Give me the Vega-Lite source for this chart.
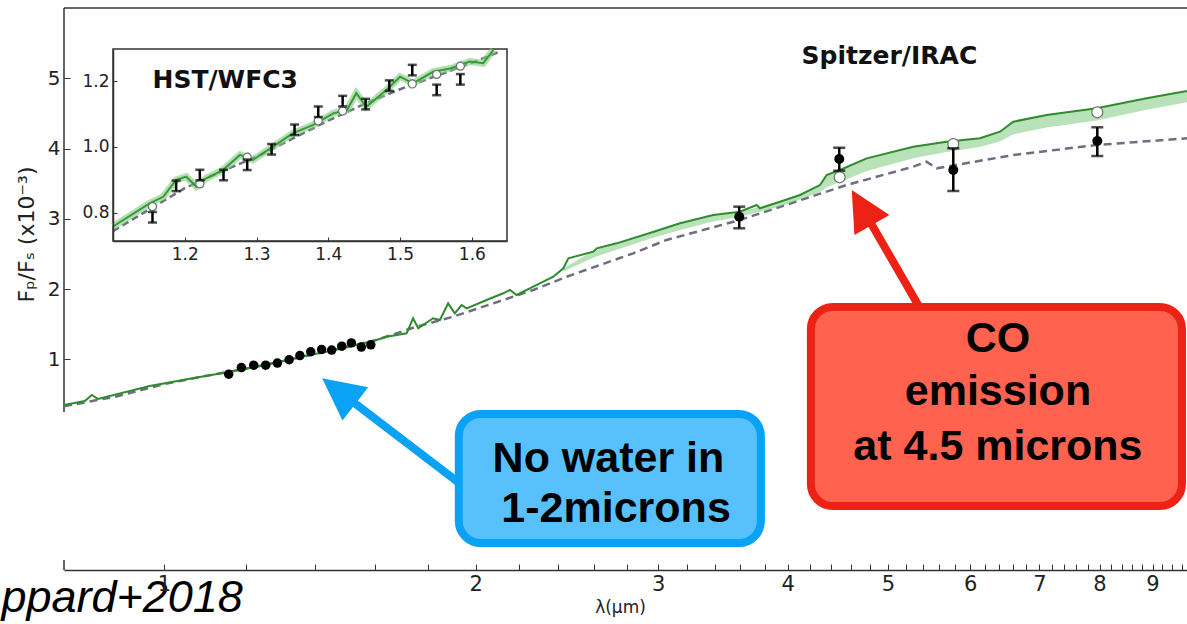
{
  "$schema": "https://vega.github.io/schema/vega-lite/v6.json",
  "width": 1123,
  "height": 562,
  "autosize": {"type": "none"},
  "padding": {"left": 64, "top": 8, "right": 0, "bottom": 54},
  "background": "white",
  "config": {"view": {"stroke": null}, "axis": {"grid": false}},
  "datasets": {
    "frame": [
      {"lam": 0.801, "v": 0.25, "lam2": 0.801, "v2": 6},
      {"lam": 0.801, "v": -2, "lam2": 0.801, "v2": -1.858},
      {"lam": 0.801, "v": 6, "lam2": 9.716, "v2": 6}
    ],
    "dash": [
      {"lam": 0.801, "v": 0.33}, {"lam": 0.9, "v": 0.47}, {"lam": 1.0, "v": 0.645}, {"lam": 1.1, "v": 0.765},
      {"lam": 1.2, "v": 0.865}, {"lam": 1.3, "v": 0.97}, {"lam": 1.4, "v": 1.075}, {"lam": 1.5, "v": 1.175},
      {"lam": 1.6, "v": 1.27}, {"lam": 1.75, "v": 1.46}, {"lam": 1.902, "v": 1.606}, {"lam": 2.273, "v": 1.986},
      {"lam": 2.448, "v": 2.175}, {"lam": 2.838, "v": 2.508}, {"lam": 3.056, "v": 2.698}, {"lam": 3.597, "v": 2.982},
      {"lam": 4.56, "v": 3.48}, {"lam": 5.288, "v": 3.741}, {"lam": 5.447, "v": 3.812}, {"lam": 5.57, "v": 3.718},
      {"lam": 6.605, "v": 3.907}, {"lam": 7.949, "v": 4.05}, {"lam": 9.716, "v": 4.145}
    ],
    "band": [
      {"lam": 2.43, "v": 2.25, "v2": 2.295}, {"lam": 2.6, "v": 2.45, "v2": 2.55}, {"lam": 2.95, "v": 2.72, "v2": 2.797},
      {"lam": 3.15, "v": 2.84, "v2": 2.935}, {"lam": 3.39, "v": 2.96, "v2": 3.053}, {"lam": 3.6, "v": 3.03, "v2": 3.1},
      {"lam": 3.93, "v": 3.17, "v2": 3.243}, {"lam": 4.11, "v": 3.27, "v2": 3.338}, {"lam": 4.3, "v": 3.38, "v2": 3.48},
      {"lam": 4.36, "v": 3.45, "v2": 3.623}, {"lam": 4.49, "v": 3.52, "v2": 3.694}, {"lam": 4.77, "v": 3.68, "v2": 3.86},
      {"lam": 5.29, "v": 3.86, "v2": 4.026}, {"lam": 5.69, "v": 3.95, "v2": 4.097}, {"lam": 6.13, "v": 4.02, "v2": 4.145},
      {"lam": 6.41, "v": 4.1, "v2": 4.239}, {"lam": 6.6, "v": 4.2, "v2": 4.382}, {"lam": 7.11, "v": 4.3, "v2": 4.477},
      {"lam": 7.95, "v": 4.4, "v2": 4.572}, {"lam": 8.88, "v": 4.55, "v2": 4.715}, {"lam": 9.716, "v": 4.66, "v2": 4.82}
    ],
    "green": [
      {"lam": 0.801, "v": 0.349}, {"lam": 0.839, "v": 0.406}, {"lam": 0.852, "v": 0.491}, {"lam": 0.864, "v": 0.434},
      {"lam": 0.969, "v": 0.619}, {"lam": 1.083, "v": 0.747}, {"lam": 1.155, "v": 0.819}, {"lam": 1.252, "v": 0.918},
      {"lam": 1.353, "v": 1.032}, {"lam": 1.479, "v": 1.146}, {"lam": 1.604, "v": 1.274}, {"lam": 1.641, "v": 1.321},
      {"lam": 1.715, "v": 1.369}, {"lam": 1.74, "v": 1.583}, {"lam": 1.76, "v": 1.441}, {"lam": 1.819, "v": 1.583},
      {"lam": 1.847, "v": 1.559}, {"lam": 1.881, "v": 1.796}, {"lam": 1.909, "v": 1.654}, {"lam": 1.938, "v": 1.772},
      {"lam": 1.96, "v": 1.725}, {"lam": 2.049, "v": 1.843}, {"lam": 2.126, "v": 1.939}, {"lam": 2.158, "v": 1.986},
      {"lam": 2.19, "v": 1.915}, {"lam": 2.273, "v": 2.033}, {"lam": 2.376, "v": 2.175}, {"lam": 2.43, "v": 2.295},
      {"lam": 2.457, "v": 2.437}, {"lam": 2.597, "v": 2.531}, {"lam": 2.617, "v": 2.579}, {"lam": 2.735, "v": 2.65},
      {"lam": 2.945, "v": 2.797}, {"lam": 3.149, "v": 2.935}, {"lam": 3.39, "v": 3.053}, {"lam": 3.597, "v": 3.1},
      {"lam": 3.734, "v": 3.196}, {"lam": 3.761, "v": 3.149}, {"lam": 3.932, "v": 3.243}, {"lam": 4.111, "v": 3.338},
      {"lam": 4.298, "v": 3.48}, {"lam": 4.362, "v": 3.623}, {"lam": 4.493, "v": 3.694}, {"lam": 4.768, "v": 3.86},
      {"lam": 5.288, "v": 4.026}, {"lam": 5.694, "v": 4.097}, {"lam": 6.133, "v": 4.145}, {"lam": 6.412, "v": 4.239},
      {"lam": 6.605, "v": 4.382}, {"lam": 7.112, "v": 4.477}, {"lam": 7.949, "v": 4.572}, {"lam": 8.882, "v": 4.715},
      {"lam": 9.716, "v": 4.82}
    ],
    "hst": [
      {"lam": 1.155, "v": 0.787}, {"lam": 1.188, "v": 0.882}, {"lam": 1.221, "v": 0.915}, {"lam": 1.254, "v": 0.915},
      {"lam": 1.287, "v": 0.946}, {"lam": 1.321, "v": 0.993}, {"lam": 1.353, "v": 1.052}, {"lam": 1.386, "v": 1.107},
      {"lam": 1.42, "v": 1.139}, {"lam": 1.452, "v": 1.13}, {"lam": 1.485, "v": 1.186}, {"lam": 1.517, "v": 1.233},
      {"lam": 1.551, "v": 1.173}, {"lam": 1.584, "v": 1.205}
    ],
    "hstErr": [
      {"lam": 1.155, "v": 0.771, "v2": 0.803}, {"lam": 1.188, "v": 0.866, "v2": 0.898}, {"lam": 1.221, "v": 0.899, "v2": 0.931},
      {"lam": 1.254, "v": 0.899, "v2": 0.931}, {"lam": 1.287, "v": 0.93, "v2": 0.962}, {"lam": 1.321, "v": 0.977, "v2": 1.009},
      {"lam": 1.353, "v": 1.036, "v2": 1.068}, {"lam": 1.386, "v": 1.091, "v2": 1.123}, {"lam": 1.42, "v": 1.123, "v2": 1.155},
      {"lam": 1.452, "v": 1.114, "v2": 1.146}, {"lam": 1.485, "v": 1.17, "v2": 1.202}, {"lam": 1.517, "v": 1.217, "v2": 1.249},
      {"lam": 1.551, "v": 1.157, "v2": 1.189}, {"lam": 1.584, "v": 1.189, "v2": 1.221}
    ],
    "hstModel": [
      {"lam": 1.155, "v": 0.819}, {"lam": 1.221, "v": 0.888}, {"lam": 1.287, "v": 0.969}, {"lam": 1.386, "v": 1.079},
      {"lam": 1.42, "v": 1.109}, {"lam": 1.517, "v": 1.191}, {"lam": 1.551, "v": 1.22}, {"lam": 1.584, "v": 1.245}
    ],
    "insetGreen": [
      {"lam": 1.1, "v": 0.759}, {"lam": 1.151, "v": 0.829}, {"lam": 1.17, "v": 0.849}, {"lam": 1.188, "v": 0.9},
      {"lam": 1.202, "v": 0.91}, {"lam": 1.216, "v": 0.88}, {"lam": 1.23, "v": 0.905}, {"lam": 1.253, "v": 0.93},
      {"lam": 1.277, "v": 0.976}, {"lam": 1.295, "v": 0.961}, {"lam": 1.323, "v": 1.001}, {"lam": 1.351, "v": 1.042},
      {"lam": 1.379, "v": 1.067}, {"lam": 1.407, "v": 1.102}, {"lam": 1.426, "v": 1.112}, {"lam": 1.439, "v": 1.163},
      {"lam": 1.453, "v": 1.122}, {"lam": 1.481, "v": 1.173}, {"lam": 1.5, "v": 1.213}, {"lam": 1.518, "v": 1.193},
      {"lam": 1.546, "v": 1.228}, {"lam": 1.57, "v": 1.238}, {"lam": 1.597, "v": 1.259}, {"lam": 1.616, "v": 1.254},
      {"lam": 1.63, "v": 1.294}
    ],
    "insetDash": [
      {"lam": 1.1, "v": 0.745}, {"lam": 1.15, "v": 0.81}, {"lam": 1.2, "v": 0.875}, {"lam": 1.25, "v": 0.925},
      {"lam": 1.3, "v": 0.97}, {"lam": 1.35, "v": 1.025}, {"lam": 1.4, "v": 1.08}, {"lam": 1.45, "v": 1.13},
      {"lam": 1.5, "v": 1.175}, {"lam": 1.55, "v": 1.215}, {"lam": 1.6, "v": 1.255}, {"lam": 1.64, "v": 1.29}
    ],
    "insetFrame": [{"lam": 1.1, "lam2": 1.649, "v": 0.715, "v2": 1.297}],
    "spitzer": [
      {"lam": 3.592, "v": 3.029}, {"lam": 4.486, "v": 3.851}, {"lam": 5.78, "v": 3.694}, {"lam": 7.96, "v": 4.107}
    ],
    "spitzerErr": [
      {"lam": 3.592, "v": 2.864, "v2": 3.172}, {"lam": 4.486, "v": 3.684, "v2": 4.011},
      {"lam": 5.78, "v": 3.395, "v2": 4.003}, {"lam": 7.96, "v": 3.893, "v2": 4.302}
    ],
    "spitzerModel": [
      {"lam": 4.49, "v": 3.59}, {"lam": 5.78, "v": 4.064}, {"lam": 7.96, "v": 4.515}
    ],
    "spitzerLabel": [{"lam": 4.126, "v": 5.203, "txt": "Spitzer/IRAC"}],
    "hstLabel": [{"lam": 1.155, "v": 1.178, "txt": "HST/WFC3"}],
    "boxes": [
      {"kind": "blue", "lam": 1.926, "lam2": 3.769, "v": -1.616, "v2": 0.221},
      {"kind": "red", "lam": 4.212, "lam2": 9.608, "v": -1.089, "v2": 1.744}
    ],
    "shafts": [
      {"kind": "blue", "ord": 0, "lam": 1.939, "v": -0.79},
      {"kind": "blue", "ord": 1, "lam": 1.475, "v": 0.548},
      {"kind": "red", "ord": 0, "lam": 5.415, "v": 1.63},
      {"kind": "red", "ord": 1, "lam": 4.717, "v": 3.16}
    ],
    "heads": [
      {"kind": "blue", "lam": 1.475, "v": 0.548},
      {"kind": "red", "lam": 4.717, "v": 3.16}
    ],
    "callouts": [
      {"lam": 2.686, "v": -0.601, "txt": "No water in"},
      {"lam": 2.732, "v": -1.313, "txt": "1-2microns"},
      {"lam": 6.383, "v": 1.103, "txt": "CO"},
      {"lam": 6.383, "v": 0.349, "txt": "emission"},
      {"lam": 6.383, "v": -0.434, "txt": "at 4.5 microns"}
    ],
    "cite": [{"lam": 1.192, "v": -2.598, "txt": "Sheppard+2018"}]
  },
  "layer": [
    {
      "encoding": {
        "x": {
          "field": "lam", "type": "quantitative",
          "scale": {"type": "log", "domain": [0.801, 9.716], "nice": false},
          "axis": {
            "title": "λ(μm)", "orient": "bottom",
            "values": [1, 1.2, 1.4, 1.6, 1.8, 2, 2.2, 2.4, 2.6, 2.8, 3, 3.2, 3.4, 3.6, 3.8, 4, 4.2, 4.4, 4.6, 4.8, 5, 5.2, 5.4, 5.6, 5.8, 6, 6.2, 6.4, 6.6, 6.8, 7, 7.2, 7.4, 7.6, 7.8, 8, 8.2, 8.4, 8.6, 8.8, 9, 9.2, 9.4, 9.6],
            "labelExpr": "datum.value % 1 === 0 ? format(datum.value, 'd') : ''",
            "labelOverlap": false, "labelFlush": false,
            "tickSize": -6, "labelPadding": 9, "tickColor": "#333", "tickWidth": 1,
            "domainColor": "#333", "domainWidth": 1.5,
            "labelFont": "DejaVu Sans", "labelFontSize": 21, "labelColor": "#222",
            "titleFont": "DejaVu Sans", "titleFontSize": 17, "titleFontWeight": "normal", "titleColor": "#222",
            "titleX": 556, "titleY": 37, "titleBaseline": "middle", "titleAlign": "center",
            "grid": false, "zindex": 1
          }
        },
        "y": {
          "field": "v", "type": "quantitative",
          "scale": {"domain": [-2, 6], "nice": false, "zero": false},
          "axis": {
            "title": "Fₚ/Fₛ (x10⁻³)", "orient": "left",
            "values": [1, 2, 3, 4, 5], "format": "d",
            "domain": false, "tickSize": -6, "labelPadding": 10, "tickColor": "#333",
            "labelFont": "DejaVu Sans", "labelFontSize": 20, "labelColor": "#222",
            "titleFont": "DejaVu Sans", "titleFontSize": 22, "titleFontWeight": "normal", "titleColor": "#222",
            "titleX": -38, "titleY": 226, "titleAngle": 270, "titleBaseline": "middle", "titleAlign": "center",
            "grid": false, "zindex": 1
          }
        }
      },
      "layer": [
        {"data": {"name": "frame"}, "mark": {"type": "rule", "color": "#333", "strokeWidth": 1.5}, "encoding": {"x2": {"field": "lam2"}, "y2": {"field": "v2"}}},
        {"data": {"name": "dash"}, "mark": {"type": "line", "color": "#6e6e80", "strokeWidth": 2.5, "strokeDash": [8, 5]}, "encoding": {}},
        {"data": {"name": "band"}, "mark": {"type": "area", "color": "#7fcb7f", "opacity": 0.55}, "encoding": {"y2": {"field": "v2"}}},
        {"data": {"name": "green"}, "mark": {"type": "line", "color": "#2e8b2e", "strokeWidth": 2}, "encoding": {}},
        {"data": {"name": "spitzerModel"}, "mark": {"type": "point", "shape": "circle", "size": 120, "fill": "white", "stroke": "#667366", "strokeWidth": 1.2, "opacity": 1, "fillOpacity": 1}},
        {"data": {"name": "spitzerErr"}, "mark": {"type": "errorbar", "ticks": true, "size": 12, "thickness": 2.5, "color": "black"}, "encoding": {"y2": {"field": "v2"}}},
        {"data": {"name": "spitzer"}, "mark": {"type": "circle", "color": "black", "size": 100, "opacity": 1}},
        {"data": {"name": "hst"}, "mark": {"type": "circle", "color": "black", "size": 90, "opacity": 1}},
        {"data": {"name": "spitzerLabel"}, "mark": {"type": "text", "font": "DejaVu Sans", "fontWeight": "bold", "fontSize": 25, "align": "left", "baseline": "alphabetic", "color": "#111"}, "encoding": {"text": {"field": "txt"}}},
        {"data": {"name": "shafts"}, "mark": {"type": "line", "strokeWidth": 8, "strokeCap": "butt"}, "encoding": {"color": {"field": "kind", "type": "nominal", "scale": {"domain": ["blue", "red"], "range": ["#0aa2f5", "#ec2314"]}, "legend": null}, "order": {"field": "ord", "type": "quantitative"}}},
        {"data": {"name": "heads"}, "transform": [{"filter": "datum.kind === 'blue'"}], "mark": {"type": "point", "shape": "M0,-1L1,1L-1,1Z", "angle": 307.8, "size": 1764, "filled": true, "color": "#0aa2f5", "opacity": 1, "strokeWidth": 0}},
        {"data": {"name": "heads"}, "transform": [{"filter": "datum.kind === 'red'"}], "mark": {"type": "point", "shape": "M0,-1L1,1L-1,1Z", "angle": 330, "size": 1632, "filled": true, "color": "#ec2314", "opacity": 1, "strokeWidth": 0}},
        {"data": {"name": "boxes"}, "mark": {"type": "rect", "cornerRadius": 22, "strokeWidth": 8, "opacity": 1}, "encoding": {"x2": {"field": "lam2"}, "y2": {"field": "v2"}, "fill": {"field": "kind", "type": "nominal", "scale": {"domain": ["blue", "red"], "range": ["#58c1fc", "#ff624f"]}, "legend": null}, "stroke": {"field": "kind", "type": "nominal", "scale": {"domain": ["blue", "red"], "range": ["#0aa2f5", "#ec2314"]}, "legend": null}}},
        {"data": {"name": "callouts"}, "mark": {"type": "text", "font": "Liberation Sans", "fontWeight": "bold", "fontSize": 43, "align": "center", "baseline": "alphabetic", "color": "black"}, "encoding": {"text": {"field": "txt"}}},
        {"data": {"name": "cite"}, "mark": {"type": "text", "font": "Liberation Sans", "fontStyle": "italic", "fontSize": 45, "align": "right", "baseline": "alphabetic", "color": "black"}, "encoding": {"text": {"field": "txt"}}}
      ]
    },
    {
      "encoding": {
        "x": {
          "field": "lam", "type": "quantitative",
          "scale": {"domain": [1.1, 1.649], "range": [49, 443], "nice": false, "zero": false},
          "axis": {
            "title": null, "orient": "bottom", "offset": -329,
            "values": [1.2, 1.3, 1.4, 1.5, 1.6], "format": ".1f",
            "tickSize": -4, "labelPadding": 9, "labelFlush": false, "tickColor": "#333",
            "domainColor": "#333", "domainWidth": 1.5,
            "labelFont": "DejaVu Sans", "labelFontSize": 17, "labelColor": "#222",
            "grid": false, "zindex": 1
          }
        },
        "y": {
          "field": "v", "type": "quantitative",
          "scale": {"domain": [0.715, 1.297], "range": [233, 41], "nice": false, "zero": false},
          "axis": {
            "title": null, "orient": "left", "offset": -49,
            "values": [0.8, 1.0, 1.2], "format": ".1f",
            "tickSize": -4, "labelPadding": 8, "labelFlush": false, "tickColor": "#333",
            "domainColor": "#333", "domainWidth": 1.5,
            "labelFont": "DejaVu Sans", "labelFontSize": 17, "labelColor": "#222",
            "grid": false, "zindex": 1
          }
        }
      },
      "layer": [
        {"data": {"name": "insetFrame"}, "mark": {"type": "rect", "fill": "white", "stroke": "#333", "strokeWidth": 1.5, "opacity": 1}, "encoding": {"x2": {"field": "lam2"}, "y2": {"field": "v2"}}},
        {"data": {"name": "insetDash"}, "mark": {"type": "line", "color": "#6e6e80", "strokeWidth": 2.5, "strokeDash": [7, 4]}, "encoding": {}},
        {"data": {"name": "insetGreen"}, "mark": {"type": "line", "color": "#7fcb7f", "strokeWidth": 7, "opacity": 0.6}, "encoding": {}},
        {"data": {"name": "insetGreen"}, "mark": {"type": "line", "color": "#3a983a", "strokeWidth": 2}, "encoding": {}},
        {"data": {"name": "hstModel"}, "mark": {"type": "point", "shape": "circle", "size": 65, "fill": "white", "stroke": "#667366", "strokeWidth": 1.2, "opacity": 1, "fillOpacity": 1}},
        {"data": {"name": "hstErr"}, "mark": {"type": "errorbar", "ticks": true, "size": 9, "thickness": 2.5, "color": "black"}, "encoding": {"y2": {"field": "v2"}}},
        {"data": {"name": "hstLabel"}, "mark": {"type": "text", "font": "DejaVu Sans", "fontWeight": "bold", "fontSize": 25, "align": "left", "baseline": "alphabetic", "color": "#111"}, "encoding": {"text": {"field": "txt"}}}
      ]
    }
  ],
  "resolve": {"scale": {"x": "independent", "y": "independent"}, "axis": {"x": "independent", "y": "independent"}}
}
